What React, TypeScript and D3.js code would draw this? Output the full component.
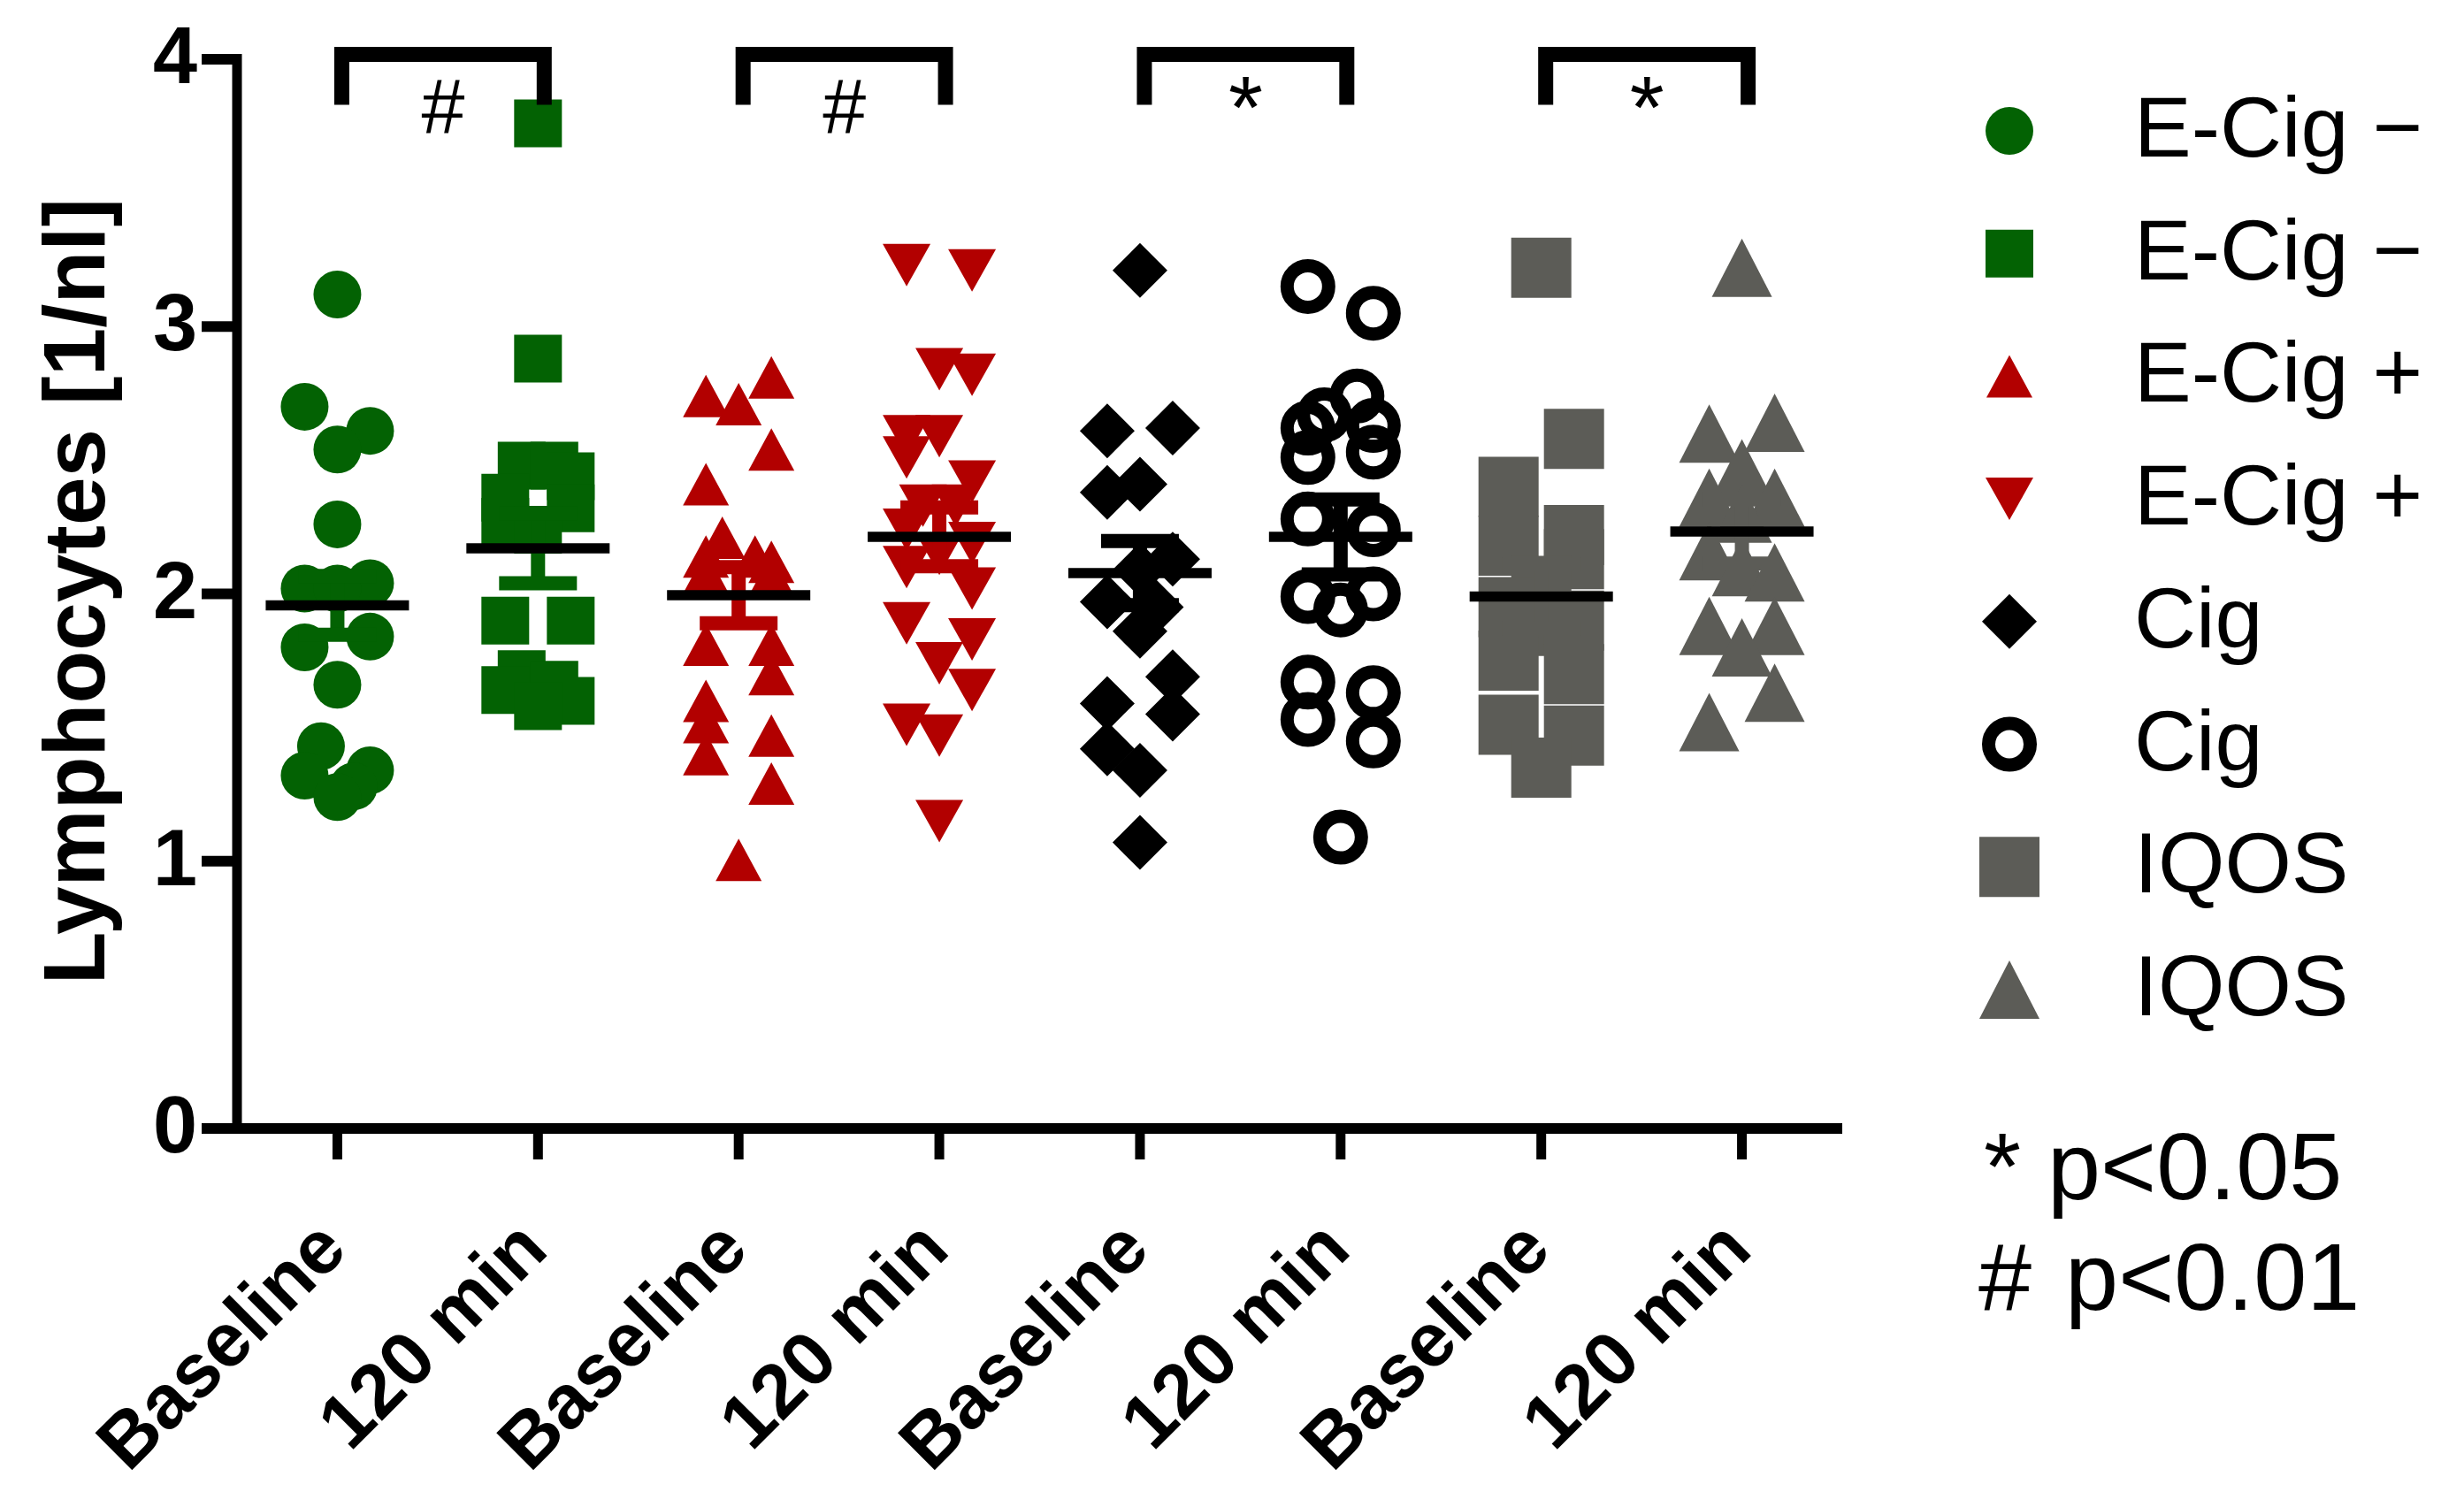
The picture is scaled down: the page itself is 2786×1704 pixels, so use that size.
import React from "react";
import * as d3 from "d3";

const WIDTH = 2786;
const HEIGHT = 1704;
const FONT = '"Liberation Sans", Arial, Helvetica, sans-serif';

// ---------- categories and labels ----------
const categories = ["ecigMinusBase", "ecigMinus120", "ecigPlusBase", "ecigPlus120", "cigBase", "cig120", "iqosBase", "iqos120"];
const tickLabels = ["Baseline", "120 min", "Baseline", "120 min", "Baseline", "120 min", "Baseline", "120 min"];
const legendLabels = ["E-Cig \u2212", "E-Cig \u2212", "E-Cig +", "E-Cig +", "Cig", "Cig", "IQOS", "IQOS"];
const yTicks = [0, 1, 2, 3, 4];
const yTitle = "Lymphocytes [1/nl]";
const pNotes = ["* p<0.05", "# p<0.01"];

// ---------- series values (1/nl) and horizontal scatter slots ----------
const ecigMinusBaseValues = [3.12, 2.70, 2.61, 2.54, 2.26, 2.04, 2.02, 2.02, 1.84, 1.80, 1.66, 1.43, 1.34, 1.32, 1.28, 1.24];
const ecigMinusBaseSlots = [0, -2, 2, 0, 0, 2, -2, 0, 2, -2, 0, -1, 2, -2, 1, 0];

const ecigMinus120Values = [3.76, 2.88, 2.48, 2.48, 2.44, 2.36, 2.32, 2.27, 2.24, 1.90, 1.90, 1.70, 1.66, 1.64, 1.60, 1.58];
const ecigMinus120Slots = [0, 0, -1, 1, 2, -2, 2, -2, 0, -2, 2, -1, 1, -2, 2, 0];

const ecigPlusBaseValues = [2.81, 2.74, 2.71, 2.54, 2.41, 2.21, 2.14, 2.12, 2.14, 2.08, 2.07, 1.81, 1.81, 1.70, 1.60, 1.52, 1.40, 1.47, 1.29, 1.005];
const ecigPlusBaseSlots = [2, -2, 0, 2, -2, -1, 1, 2, -2, -2, 2, -2, 2, 2, -2, -2, -2, 2, 2, 0];

const ecigPlus120Values = [3.23, 3.21, 2.84, 2.82, 2.59, 2.59, 2.51, 2.42, 2.33, 2.33, 2.24, 2.19, 2.15, 2.10, 2.02, 1.89, 1.83, 1.74, 1.64, 1.51, 1.47, 1.15];
const ecigPlus120Slots = [-2, 2, 0, 2, -2, 0, -2, 2, -1, 1, -2, 2, 0, -2, 2, -2, 2, 0, 2, -2, 0, 0];

const cigBaseValues = [3.21, 2.61, 2.62, 2.41, 2.38, 2.13, 2.09, 1.97, 1.95, 1.86, 1.69, 1.59, 1.55, 1.42, 1.34, 1.07];
const cigBaseSlots = [0, -2, 2, 0, -2, 2, 0, -2, 1, 0, 2, -2, 2, -2, 0, 0];

const cig120Values = [3.15, 3.05, 2.74, 2.67, 2.63, 2.62, 2.53, 2.51, 2.28, 2.24, 1.99, 1.94, 2.00, 1.67, 1.53, 1.63, 1.45, 1.09];
const cig120Slots = [-2, 2, 1, -1, 2, -2, 2, -2, -2, 2, -2, 0, 2, -2, -2, 2, 2, 0];

const iqosBaseValues = [3.22, 2.58, 2.40, 2.18, 2.22, 2.13, 2.03, 1.88, 1.95, 1.75, 1.51, 1.90, 1.70, 1.47, 1.35];
const iqosBaseSlots = [0, 2, -2, -2, 2, 2, 0, 0, -2, -2, -2, 2, 2, 2, 0];

const iqos120Values = [3.22, 2.64, 2.60, 2.47, 2.36, 2.36, 2.30, 2.16, 2.10, 2.08, 1.88, 1.88, 1.80, 1.63, 1.52];
const iqos120Slots = [0, 2, -2, 0, -2, 2, 0, -2, 0, 2, -2, 2, 0, 2, -2];

const groupValues = [ecigMinusBaseValues, ecigMinus120Values, ecigPlusBaseValues, ecigPlus120Values, cigBaseValues, cig120Values, iqosBaseValues, iqos120Values];
const groupSlots = [ecigMinusBaseSlots, ecigMinus120Slots, ecigPlusBaseSlots, ecigPlus120Slots, cigBaseSlots, cig120Slots, iqosBaseSlots, iqos120Slots];

// mean and SEM per group
const groupMeans = [1.957, 2.17, 1.995, 2.213, 2.078, 2.213, 1.99, 2.233];
const groupSems = [0.11, 0.13, 0.105, 0.11, 0.12, 0.14, 0.12, 0.12];

// significance brackets: [from index, to index, symbol]
const comparisons: [number, number, string][] = [
  [0, 1, "#"],
  [2, 3, "#"],
  [4, 5, "*"],
  [6, 7, "*"],
];

// ---------- styles ----------
const GREEN = "#036203";
const RED = "#b20000";
const GRAY = "#5c5c57";
const BLACK = "#000000";

type Shape = "circle" | "square" | "triUp" | "triDown" | "diamond" | "ring";
const seriesStyles: { shape: Shape; color: string; w: number; h: number }[] = [
  { shape: "circle", color: GREEN, w: 54, h: 54 },
  { shape: "square", color: GREEN, w: 54, h: 54 },
  { shape: "triUp", color: RED, w: 52, h: 48 },
  { shape: "triDown", color: RED, w: 54, h: 48 },
  { shape: "diamond", color: BLACK, w: 62, h: 62 },
  { shape: "ring", color: BLACK, w: 62, h: 62 },
  { shape: "square", color: GRAY, w: 68, h: 68 },
  { shape: "triUp", color: GRAY, w: 68, h: 66 },
];

// ---------- scales ----------
const x = d3.scalePoint<string>().domain(categories).range([268, 2083]).padding(0.5);
const y = d3.scaleLinear().domain([0, 4]).range([1276, 67]);
const jitter = d3.scaleLinear().domain([-1, 1]).range([-18.5, 18.5]);

function shapePath(shape: Shape, w: number, h: number): string {
  const p = d3.path();
  if (shape === "square") {
    p.rect(-w / 2, -h / 2, w, h);
  } else if (shape === "triUp") {
    p.moveTo(-w / 2, h / 2);
    p.lineTo(0, -h / 2);
    p.lineTo(w / 2, h / 2);
    p.closePath();
  } else if (shape === "triDown") {
    p.moveTo(-w / 2, -h / 2);
    p.lineTo(w / 2, -h / 2);
    p.lineTo(0, h / 2);
    p.closePath();
  } else if (shape === "diamond") {
    p.moveTo(0, -h / 2);
    p.lineTo(w / 2, 0);
    p.lineTo(0, h / 2);
    p.lineTo(-w / 2, 0);
    p.closePath();
  } else {
    p.arc(0, 0, w / 2, 0, Math.PI * 2);
    p.closePath();
  }
  return p.toString();
}

function Marker({ style, cx, cy }: { style: { shape: Shape; color: string; w: number; h: number }; cx: number; cy: number }) {
  if (style.shape === "ring") {
    const sw = 15;
    return <circle cx={cx} cy={cy} r={(style.w - sw) / 2} fill="none" stroke={style.color} strokeWidth={sw} />;
  }
  return <path d={shapePath(style.shape, style.w, style.h)} transform={`translate(${cx},${cy})`} fill={style.color} />;
}

export default function App() {
  const axisW = 12;
  const meanHalf = 81;
  const capHalf = 44;
  const legendX = 2272;
  const legendTextX = 2413;
  const legendRow0 = 148;
  const legendStep = 138.7;

  return (
    <svg
      width={WIDTH}
      height={HEIGHT}
      viewBox={`0 0 ${WIDTH} ${HEIGHT}`}
      style={{ position: "absolute", left: 0, top: 0, display: "block", background: "#fff" }}
      fontFamily={FONT}
    >
      <rect x={0} y={0} width={WIDTH} height={HEIGHT} fill="#fff" />

      {/* points */}
      {groupValues.map((vals, gi) => (
        <g key={`pts-${gi}`}>
          {vals.map((v, i) => (
            <Marker key={i} style={seriesStyles[gi]} cx={(x(categories[gi]) as number) + jitter(groupSlots[gi][i])} cy={y(v)} />
          ))}
        </g>
      ))}

      {/* error bars (SEM) */}
      {groupMeans.map((m, gi) => {
        const cx = x(categories[gi]) as number;
        const col = seriesStyles[gi].color;
        const yHi = y(m + groupSems[gi]);
        const yLo = y(m - groupSems[gi]);
        return (
          <g key={`eb-${gi}`} stroke={col} strokeWidth={16}>
            <line x1={cx} x2={cx} y1={yHi} y2={yLo} />
            <line x1={cx - capHalf} x2={cx + capHalf} y1={yHi} y2={yHi} />
            <line x1={cx - capHalf} x2={cx + capHalf} y1={yLo} y2={yLo} />
          </g>
        );
      })}

      {/* mean lines */}
      {groupMeans.map((m, gi) => {
        const cx = x(categories[gi]) as number;
        return <line key={`mean-${gi}`} x1={cx - meanHalf} x2={cx + meanHalf} y1={y(m)} y2={y(m)} stroke={BLACK} strokeWidth={11.5} />;
      })}

      {/* y axis */}
      <line x1={268} x2={268} y1={y(4) - axisW / 2} y2={y(0) + axisW / 2} stroke={BLACK} strokeWidth={axisW - 1} />
      {yTicks.map((t) => (
        <g key={`yt-${t}`}>
          <line x1={228} x2={268} y1={y(t)} y2={y(t)} stroke={BLACK} strokeWidth={axisW} />
          <text x={223} y={y(t) + 27} textAnchor="end" fontSize={90} fontWeight={700} fill={BLACK}>
            {t}
          </text>
        </g>
      ))}
      <text
        transform={`translate(118, ${(y(0) + y(4)) / 2 - 3}) rotate(-90)`}
        textAnchor="middle"
        fontSize={98}
        fontWeight={700}
        fill={BLACK}
      >
        {yTitle}
      </text>

      {/* x axis */}
      <line x1={262} x2={2083} y1={y(0)} y2={y(0)} stroke={BLACK} strokeWidth={axisW} />
      {categories.map((c, i) => {
        const cx = x(c) as number;
        return (
          <g key={`xt-${c}`}>
            <line x1={cx} x2={cx} y1={y(0)} y2={y(0) + 35} stroke={BLACK} strokeWidth={11} />
            <text
              transform={`translate(${cx + 14}, 1416) rotate(-45)`}
              textAnchor="end"
              fontSize={86}
              fontWeight={700}
              fill={BLACK}
            >
              {tickLabels[i]}
            </text>
          </g>
        );
      })}

      {/* significance brackets */}
      {comparisons.map(([a, b, sym], k) => {
        const x1 = (x(categories[a]) as number) + 5;
        const x2 = (x(categories[b]) as number) + 7;
        const top = y(4.018);
        const leg = y(3.83);
        return (
          <g key={`br-${k}`}>
            <path d={`M${x1},${leg} V${top} H${x2} V${leg}`} fill="none" stroke={BLACK} strokeWidth={17} strokeLinejoin="miter" />
            <text x={(x1 + x2) / 2} y={sym === "#" ? 150 : 156} textAnchor="middle" fontSize={sym === "#" ? 88 : 100} fill={BLACK}>
              {sym}
            </text>
          </g>
        );
      })}

      {/* legend */}
      {legendLabels.map((lab, i) => {
        const cy = legendRow0 + i * legendStep;
        return (
          <g key={`lg-${i}`}>
            <Marker style={seriesStyles[i]} cx={legendX} cy={cy} />
            <text x={legendTextX} y={cy + 29} fontSize={97} fill={BLACK}>
              {lab}
            </text>
          </g>
        );
      })}
      <text x={2243} y={1356} fontSize={108} fill={BLACK}>
        {pNotes[0]}
      </text>
      <text x={2237} y={1481} fontSize={108} fill={BLACK} wordSpacing={8}>
        {pNotes[1]}
      </text>
    </svg>
  );
}
